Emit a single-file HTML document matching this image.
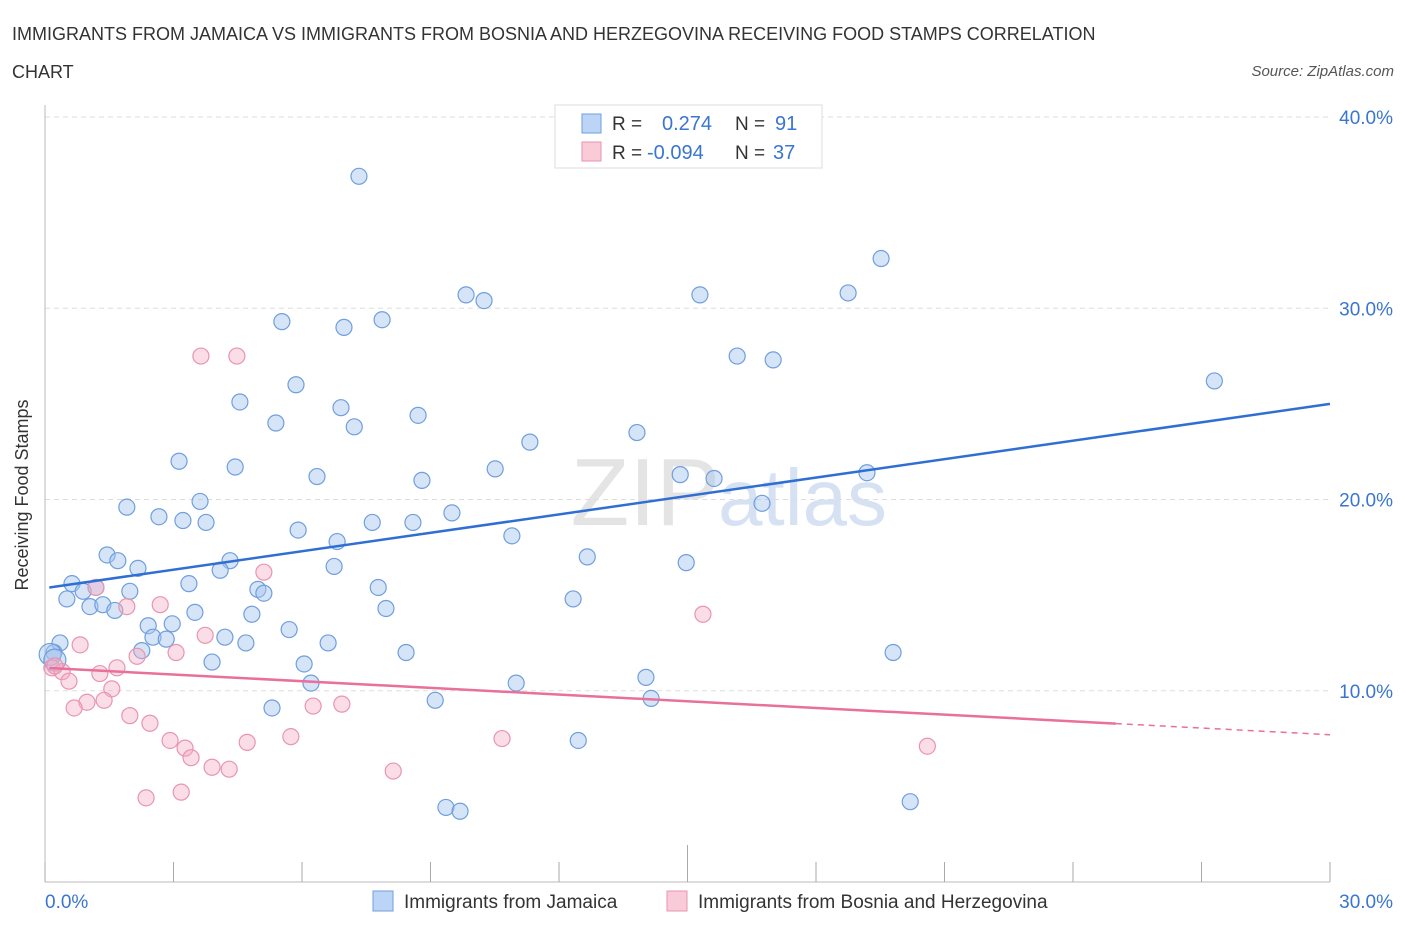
<!DOCTYPE html>
<html><head><meta charset="utf-8"><style>
body{margin:0;background:#fff;font-family:"Liberation Sans",sans-serif;}
svg text{font-family:"Liberation Sans",sans-serif;}
</style></head><body>
<svg id="chart" width="1406" height="930" xmlns="http://www.w3.org/2000/svg">
<text x="12" y="40" font-size="18" fill="#333">IMMIGRANTS FROM JAMAICA VS IMMIGRANTS FROM BOSNIA AND HERZEGOVINA RECEIVING FOOD STAMPS CORRELATION</text>
<text x="12" y="78" font-size="18" fill="#333">CHART</text>
<text x="1394" y="76" font-size="15" fill="#555" font-style="italic" text-anchor="end">Source: ZipAtlas.com</text>
<text x="720" y="525" font-size="96" fill="#e4e4e4" text-anchor="end" font-family="Liberation Serif">ZIP</text>
<text x="718" y="525" font-size="80" fill="#d6e2f3">atlas</text>
<g id="grid"></g><g id="ticks"></g>
<text x="28" y="495" font-size="18" fill="#333" text-anchor="middle" transform="rotate(-90 28 495)">Receiving Food Stamps</text>
<g id="pts"></g><g id="lines"></g>
<g>
<rect x="555" y="105" width="267" height="63" fill="#fff" stroke="#ddd"/>
<rect x="582" y="114" width="19" height="19" fill="#bcd4f6" stroke="#6f9fdc"/>
<rect x="582" y="142" width="19" height="19" fill="#f9cad8" stroke="#e895b0"/>
<text x="612" y="130" font-size="19" fill="#333">R = </text><text x="662" y="130" font-size="20" fill="#3a75d0">0.274</text>
<text x="735" y="130" font-size="19" fill="#333">N = </text><text x="775" y="130" font-size="20" fill="#3a75d0">91</text>
<text x="612" y="159" font-size="19" fill="#333">R = </text><text x="647" y="159" font-size="20" fill="#3a75d0">-0.094</text>
<text x="735" y="159" font-size="19" fill="#333">N = </text><text x="773" y="159" font-size="20" fill="#3a75d0">37</text>
</g>
<g>
<rect x="373" y="891" width="20" height="20" fill="#bcd4f6" stroke="#6f9fdc"/>
<text x="404" y="908" font-size="19" fill="#333">Immigrants from Jamaica</text>
<rect x="667" y="891" width="20" height="20" fill="#f9cad8" stroke="#e895b0"/>
<text x="698" y="908" font-size="19" fill="#333">Immigrants from Bosnia and Herzegovina</text>
</g>
</svg>
<script>
const yTicks=[10,20,30,40];
const yTickLabels=["10.0%","20.0%","30.0%","40.0%"];
const xTickLabels=["0.0%","30.0%"];
const blueX=[7.33,19.52,9.83,10.25,15.29,18.75,5.53,6.98,7.87,16.16,17.0,27.3,5.86,4.55,6.91,5.39,7.22,8.71,11.32,13.82,3.13,4.44,6.35,10.51,14.83,15.62,19.19,8.80,1.91,3.62,2.66,3.22,3.76,5.91,7.64,8.59,9.50,16.74,10.9,6.82,1.45,1.70,2.17,4.32,4.09,12.66,14.97,6.75,0.63,0.89,1.19,0.51,1.98,3.36,4.97,5.11,7.78,12.33,1.05,1.35,1.63,3.50,4.83,7.96,2.41,2.97,5.70,2.52,2.83,4.20,4.69,6.61,0.35,0.21,2.26,3.90,6.05,8.43,19.8,14.03,6.21,11.0,14.15,5.30,9.11,12.45,9.36,9.69,20.2,0.12,0.23];
const blueY=[36.9,32.6,30.7,30.4,30.7,30.8,29.3,29.0,29.4,27.5,27.3,26.2,26.0,25.1,24.8,24.0,23.8,24.4,23.0,23.5,22.0,21.7,21.2,21.6,21.3,21.1,21.4,21.0,19.6,19.9,19.1,18.9,18.8,18.4,18.8,18.8,19.3,19.8,18.1,17.8,17.1,16.8,16.4,16.8,16.3,17.0,16.7,16.5,15.6,15.2,15.4,14.8,15.2,15.6,15.3,15.1,15.4,14.8,14.4,14.5,14.2,14.1,14.0,14.3,13.4,13.5,13.2,12.8,12.7,12.8,12.5,12.5,12.5,12.0,12.1,11.5,11.4,12.0,12.0,10.7,10.4,10.4,9.6,9.1,9.5,7.4,3.9,3.7,4.2,11.9,11.6];
const pinkX=[3.64,4.48,5.11,1.19,1.91,2.69,15.36,3.74,0.82,3.06,2.15,0.16,0.40,1.68,1.28,0.56,1.56,0.98,1.38,0.68,1.98,2.45,6.26,6.93,2.92,3.27,3.41,4.72,5.74,10.67,3.90,4.30,8.13,3.18,2.36,20.6,0.23];
const pinkY=[27.5,27.5,16.2,15.4,14.4,14.5,14.0,12.9,12.4,12.0,11.8,11.2,11.0,11.2,10.9,10.5,10.1,9.4,9.5,9.1,8.7,8.3,9.2,9.3,7.4,7.0,6.5,7.3,7.6,7.5,6.0,5.9,5.8,4.7,4.4,7.1,11.3];
const blueLine=[15.4,25.0]; // y at x=0, x=30
const pinkLine=[11.2,7.7];
const pinkSolidEnd=25;
const NS="http://www.w3.org/2000/svg";
const X0=45,X1=1330,YB=882,YT=117;
const sx=v=>X0+(v/30)*(X1-X0);
const sy=v=>YB-(v/40)*(YB-YT);
function mk(t,a,p){const e=document.createElementNS(NS,t);for(const k in a)e.setAttribute(k,a[k]);p.appendChild(e);return e;}
const grid=document.getElementById('grid'),ticks=document.getElementById('ticks');
yTicks.forEach((t,i)=>{
 const l=mk('line',{x1:X0,x2:X1,y1:sy(t),y2:sy(t),stroke:'#ddd','stroke-dasharray':'5,4'},grid);
 
 
 const tx=mk('text',{x:1393,y:sy(t)+7,'font-size':19,fill:'#3a75d0','text-anchor':'end'},ticks);
 tx.textContent=yTickLabels[i];
 
 
});
const ax=mk('line',{x1:X0,x2:X0,y1:105,y2:YB,stroke:'#bbb'},grid);


const bx=mk('line',{x1:X0,x2:X1,y1:YB,y2:YB,stroke:'#bbb'},grid);


for(let i=0;i<=10;i++){
 const v=i*3;
 const tk=mk('line',{x1:sx(v),x2:sx(v),y1:i==5?845:862,y2:YB,stroke:'#aaa'},ticks);
 
 
}
[[0,'start',45],[30,'end',1393]].forEach((d,i)=>{
 const tx=mk('text',{x:d[2],y:908,'font-size':19,fill:'#3a75d0','text-anchor':d[1]},ticks);
 tx.textContent=xTickLabels[i];
 
 
});
const pts=document.getElementById('pts');
blueX.forEach((x,i)=>{
 const c=mk('circle',{cx:sx(x),cy:sy(blueY[i]),r:(i>=blueX.length-2?11:8),fill:'rgba(164,196,240,0.45)',stroke:'#6f9fdc','stroke-width':1.2},pts);
 
 
});
pinkX.forEach((x,i)=>{
 const c=mk('circle',{cx:sx(x),cy:sy(pinkY[i]),r:8,fill:'rgba(245,170,195,0.4)',stroke:'#e895b0','stroke-width':1.2},pts);
 
 
});
const lines=document.getElementById('lines');
const bl=mk('line',{x1:sx(0.1),y1:sy(blueLine[0]),x2:sx(30),y2:sy(blueLine[1]),stroke:'#2f6fd4','stroke-width':2.5},lines);


const py=x=>pinkLine[0]+(pinkLine[1]-pinkLine[0])*x/30;
const pl=mk('line',{x1:sx(0.1),y1:sy(py(0.1)),x2:sx(pinkSolidEnd),y2:sy(py(pinkSolidEnd)),stroke:'#e8709a','stroke-width':2.5},lines);


const pd=mk('line',{x1:sx(pinkSolidEnd),y1:sy(py(pinkSolidEnd)),x2:sx(30),y2:sy(py(30)),stroke:'#e8709a','stroke-width':1.5,'stroke-dasharray':'6,5'},lines);


</script>
</body></html>
